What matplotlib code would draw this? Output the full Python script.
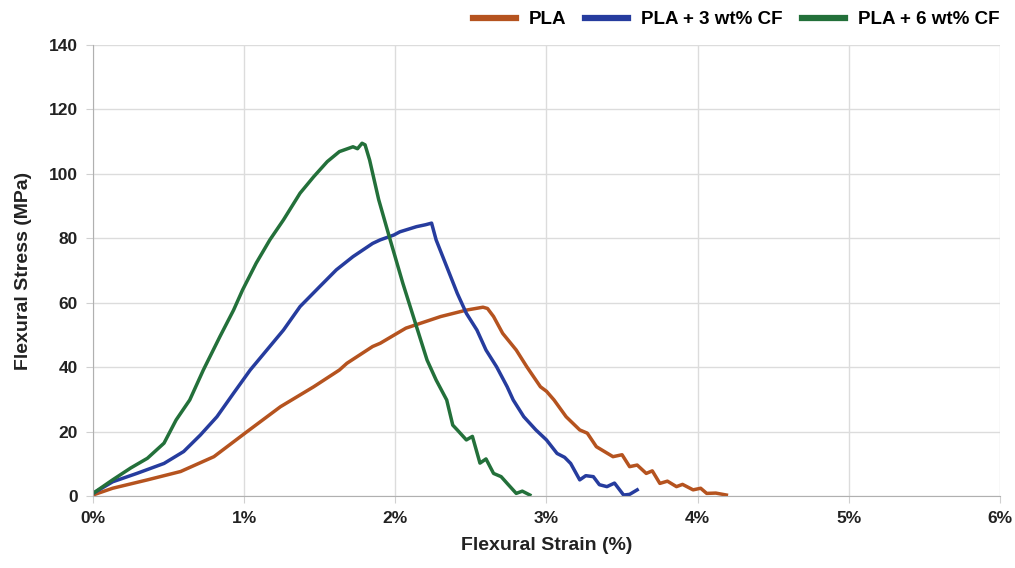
import matplotlib.pyplot as plt
from matplotlib.ticker import FuncFormatter

plt.rcParams['font.family'] = ['Liberation Sans', 'DejaVu Sans']

# strain (%) / stress (MPa)
pla_x = [0.0, 0.13, 0.36, 0.58, 0.80, 1.02, 1.24, 1.46, 1.63, 1.68, 1.85, 1.90, 2.03, 2.07,
         2.30, 2.47, 2.58, 2.61, 2.65, 2.71, 2.80, 2.87, 2.96, 3.00, 3.05, 3.13, 3.22, 3.27,
         3.33, 3.44, 3.50, 3.55, 3.60, 3.66, 3.70, 3.75, 3.80, 3.86, 3.90, 3.97, 4.02, 4.06, 4.12, 4.19]
pla_y = [0.3, 2.4, 5.0, 7.6, 12.2, 20.0, 27.7, 33.9, 39.1, 41.2, 46.4, 47.4, 51.0, 52.1,
         55.7, 57.7, 58.6, 58.2, 55.7, 50.5, 45.3, 40.1, 33.9, 32.5, 29.8, 24.6, 20.5, 19.5,
         15.3, 12.2, 12.8, 9.1, 9.6, 7.0, 7.8, 3.9, 4.6, 2.9, 3.6, 1.9, 2.4, 0.8, 0.9, 0.3]

cf3_x = [0.0, 0.13, 0.29, 0.47, 0.60, 0.71, 0.82, 0.93, 1.04, 1.15, 1.26, 1.37, 1.50, 1.61,
         1.72, 1.85, 1.90, 1.99, 2.03, 2.14, 2.20, 2.24, 2.27, 2.34, 2.41, 2.47, 2.54, 2.60,
         2.67, 2.74, 2.78, 2.85, 2.93, 3.00, 3.07, 3.12, 3.16, 3.22, 3.26, 3.31, 3.35, 3.40,
         3.45, 3.51, 3.55, 3.60]
cf3_y = [0.8, 4.4, 7.0, 10.1, 13.8, 18.9, 24.6, 31.9, 39.1, 45.3, 51.5, 58.8, 65.0, 70.2,
         74.3, 78.4, 79.5, 81.0, 82.0, 83.6, 84.2, 84.7, 79.5, 71.2, 62.9, 56.7, 51.5, 45.3,
         40.1, 33.9, 29.8, 24.6, 20.5, 17.4, 13.2, 12.0, 10.1, 5.0, 6.3, 6.0, 3.5, 2.9,
         4.0, 0.3, 0.5, 1.9]

cf6_x = [0.0, 0.13, 0.25, 0.36, 0.47, 0.55, 0.64, 0.73, 0.84, 0.93, 0.99, 1.08, 1.17, 1.26,
         1.37, 1.46, 1.55, 1.63, 1.72, 1.75, 1.78, 1.80, 1.83, 1.89, 1.96, 2.05, 2.14, 2.21,
         2.27, 2.34, 2.38, 2.41, 2.47, 2.51, 2.56, 2.60, 2.65, 2.70, 2.74, 2.80, 2.84, 2.89]
cf6_y = [0.8, 5.0, 8.7, 11.7, 16.4, 23.6, 29.8, 39.1, 49.5, 57.7, 64.0, 72.3, 79.5, 85.7,
         94.0, 99.1, 103.8, 106.9, 108.4, 107.8, 109.5, 109.0, 104.3, 92.0, 80.5, 66.0, 52.6, 42.2,
         36.0, 29.8, 22.0, 20.5, 17.4, 18.5, 10.2, 11.5, 7.0, 6.0, 3.9, 0.8, 1.5, 0.3]

labels = ['PLA', 'PLA + 3 wt% CF', 'PLA + 6 wt% CF']
colors = ['#B5531F', '#263C9E', '#23703A']

fig = plt.figure(figsize=(10.15, 5.68), dpi=100)
ax = fig.add_axes([0.0916, 0.1268, 0.8936, 0.794])

for xs, ys, lab, c in zip([pla_x, cf3_x, cf6_x], [pla_y, cf3_y, cf6_y], labels, colors):
    ax.plot(xs, ys, color=c, lw=2.5, label=lab)

ax.set_xlim(0, 6)
ax.set_ylim(0, 140)
ax.set_xticks(range(0, 7))
ax.set_yticks(range(0, 141, 20))
ax.xaxis.set_major_formatter(FuncFormatter(lambda v, p: '%d%%' % v))
ax.grid(True, color='#dcdcdc', lw=1)
ax.set_axisbelow(True)
for s in ['top', 'right']:
    ax.spines[s].set_visible(False)
for s in ['left', 'bottom']:
    ax.spines[s].set_color('#b0b0b0')
ax.tick_params(length=5, color='#d0d0d0', labelsize=12.5, labelcolor='#222222', pad=6)
for t in ax.get_xticklabels() + ax.get_yticklabels():
    t.set_fontweight('bold')

ax.set_xlabel('Flexural Strain (%)', fontsize=14, fontweight='bold', color='#222222', labelpad=8)
ax.set_ylabel('Flexural Stress (MPa)', fontsize=14, fontweight='bold', color='#222222', labelpad=12)

leg = ax.legend(loc='lower right', bbox_to_anchor=(1.018, 1.0), ncol=3, frameon=False,
                prop={'weight': 'bold', 'size': 13.5}, handlelength=2.3, columnspacing=1.0,
                handletextpad=0.7)
for h in leg.get_lines():
    h.set_linewidth(4.5)

fig.savefig('out.png', dpi=100)
